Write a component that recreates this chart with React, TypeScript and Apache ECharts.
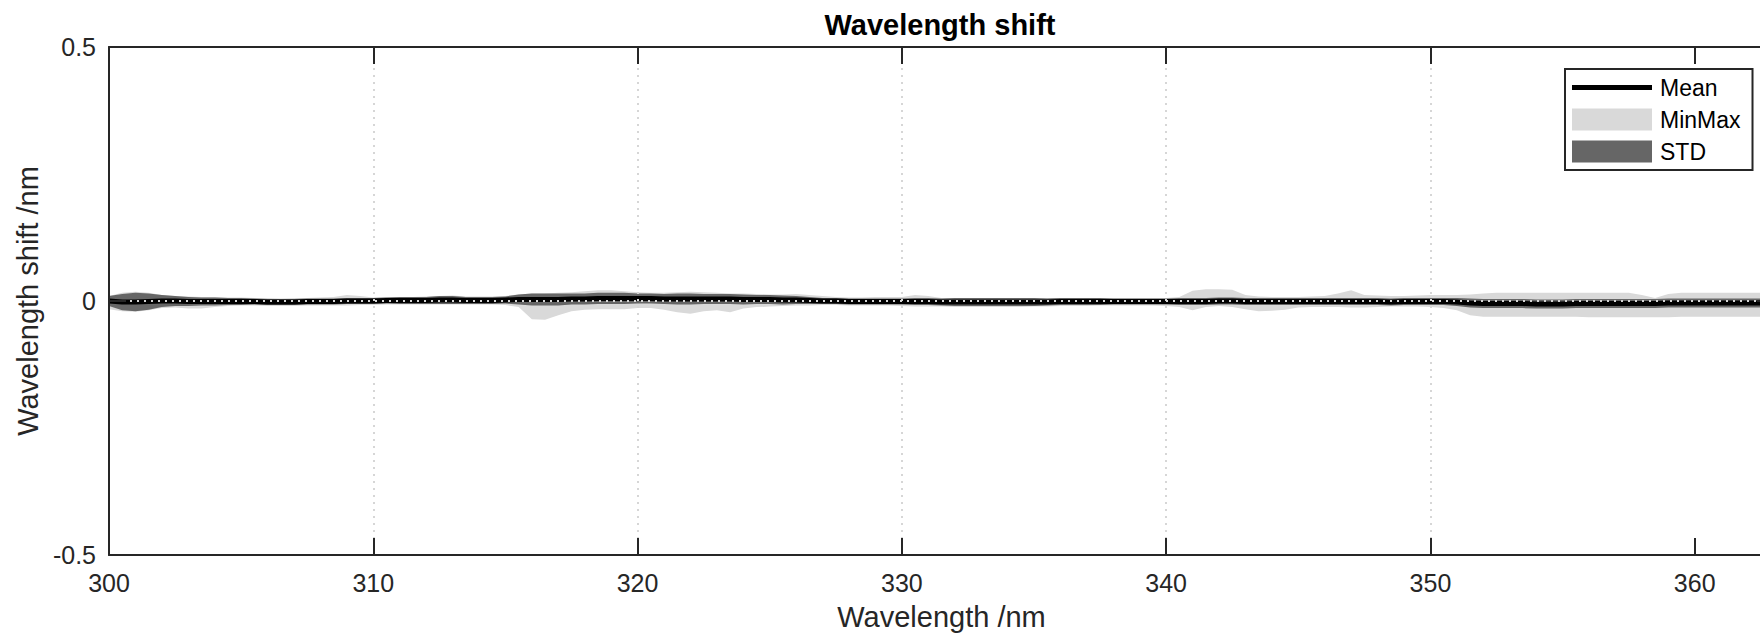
import React, { useEffect, useRef } from "react";
import * as echarts from "echarts";

// Wavelength grid (nm)
const wavelengths = [
  300, 300.5, 301, 301.5, 302, 302.5, 303, 303.5, 304, 304.5,
  305, 305.5, 306, 306.5, 307, 307.5, 308, 308.5, 309, 309.5,
  310, 310.5, 311, 311.5, 312, 312.5, 313, 313.5, 314, 314.5,
  315, 315.5, 316, 316.5, 317, 317.5, 318, 318.5, 319, 319.5,
  320, 320.5, 321, 321.5, 322, 322.5, 323, 323.5, 324, 324.5,
  325, 325.5, 326, 326.5, 327, 327.5, 328, 328.5, 329, 329.5,
  330, 330.5, 331, 331.5, 332, 332.5, 333, 333.5, 334, 334.5,
  335, 335.5, 336, 336.5, 337, 337.5, 338, 338.5, 339, 339.5,
  340, 340.5, 341, 341.5, 342, 342.5, 343, 343.5, 344, 344.5,
  345, 345.5, 346, 346.5, 347, 347.5, 348, 348.5, 349, 349.5,
  350, 350.5, 351, 351.5, 352, 352.5, 353, 353.5, 354, 354.5,
  355, 355.5, 356, 356.5, 357, 357.5, 358, 358.5, 359, 359.5,
  360, 360.5, 361, 361.5, 362, 362.5, 363,
];

const meanShift = [
  0.000, -0.002, -0.002, -0.001, 0.000, 0.000, -0.001, -0.001, -0.001, -0.001,
  -0.001, -0.001, -0.002, -0.002, -0.002, -0.001, -0.001, -0.001, 0.000, 0.000,
  0.000, 0.001, 0.001, 0.001, 0.001, 0.002, 0.002, 0.001, 0.001, 0.001,
  0.002, 0.003, 0.003, 0.003, 0.003, 0.004, 0.004, 0.005, 0.005, 0.005,
  0.005, 0.005, 0.004, 0.004, 0.004, 0.004, 0.004, 0.004, 0.003, 0.003,
  0.003, 0.002, 0.002, 0.001, 0.000, 0.000, -0.001, -0.001, -0.001, -0.001,
  -0.001, -0.001, -0.001, -0.002, -0.002, -0.002, -0.002, -0.002, -0.002, -0.002,
  -0.002, -0.002, -0.001, -0.001, -0.001, -0.001, -0.001, -0.001, -0.001, -0.001,
  -0.001, -0.001, -0.001, -0.001, 0.000, 0.000, -0.001, -0.001, -0.001, -0.001,
  -0.001, -0.001, -0.001, -0.001, -0.001, -0.001, -0.001, -0.002, -0.001, -0.001,
  -0.001, -0.001, -0.002, -0.004, -0.005, -0.005, -0.005, -0.005, -0.006, -0.006,
  -0.006, -0.005, -0.005, -0.005, -0.005, -0.005, -0.005, -0.005, -0.004, -0.004,
  -0.004, -0.004, -0.004, -0.004, -0.004, -0.004, -0.004,
];

const stdShift = [
  0.010, 0.016, 0.018, 0.016, 0.012, 0.010, 0.009, 0.008, 0.008, 0.007,
  0.007, 0.006, 0.006, 0.006, 0.006, 0.006, 0.006, 0.006, 0.006, 0.006,
  0.006, 0.006, 0.007, 0.007, 0.007, 0.008, 0.008, 0.007, 0.007, 0.007,
  0.007, 0.010, 0.012, 0.012, 0.012, 0.011, 0.011, 0.011, 0.011, 0.011,
  0.010, 0.010, 0.010, 0.011, 0.011, 0.010, 0.010, 0.010, 0.010, 0.009,
  0.009, 0.009, 0.008, 0.007, 0.006, 0.006, 0.006, 0.006, 0.006, 0.006,
  0.006, 0.007, 0.007, 0.007, 0.008, 0.008, 0.008, 0.008, 0.008, 0.008,
  0.008, 0.007, 0.007, 0.007, 0.007, 0.007, 0.006, 0.006, 0.006, 0.006,
  0.006, 0.007, 0.007, 0.007, 0.007, 0.007, 0.007, 0.007, 0.007, 0.007,
  0.007, 0.007, 0.007, 0.007, 0.007, 0.007, 0.007, 0.007, 0.007, 0.007,
  0.007, 0.007, 0.008, 0.009, 0.009, 0.009, 0.009, 0.009, 0.009, 0.009,
  0.009, 0.009, 0.009, 0.009, 0.009, 0.009, 0.009, 0.009, 0.009, 0.009,
  0.009, 0.009, 0.009, 0.009, 0.009, 0.009, 0.009,
];

const minShift = [
  -0.016, -0.020, -0.021, -0.018, -0.014, -0.013, -0.015, -0.015, -0.012, -0.010,
  -0.009, -0.009, -0.010, -0.010, -0.010, -0.009, -0.009, -0.009, -0.009, -0.008,
  -0.008, -0.007, -0.007, -0.007, -0.007, -0.007, -0.007, -0.007, -0.007, -0.007,
  -0.008, -0.012, -0.036, -0.037, -0.028, -0.020, -0.017, -0.016, -0.016, -0.016,
  -0.014, -0.014, -0.017, -0.022, -0.025, -0.020, -0.018, -0.022, -0.015, -0.012,
  -0.011, -0.010, -0.009, -0.009, -0.008, -0.008, -0.009, -0.009, -0.009, -0.009,
  -0.010, -0.011, -0.011, -0.011, -0.012, -0.012, -0.012, -0.012, -0.012, -0.012,
  -0.011, -0.011, -0.010, -0.010, -0.010, -0.009, -0.009, -0.009, -0.009, -0.009,
  -0.010, -0.012, -0.018, -0.012, -0.010, -0.012, -0.016, -0.020, -0.019, -0.017,
  -0.013, -0.012, -0.012, -0.012, -0.013, -0.013, -0.012, -0.011, -0.011, -0.011,
  -0.012, -0.014, -0.018, -0.028, -0.031, -0.031, -0.031, -0.031, -0.031, -0.031,
  -0.031, -0.031, -0.032, -0.032, -0.032, -0.032, -0.032, -0.032, -0.032, -0.031,
  -0.031, -0.031, -0.031, -0.031, -0.031, -0.031, -0.031,
];

const maxShift = [
  0.010, 0.016, 0.018, 0.016, 0.012, 0.010, 0.009, 0.008, 0.008, 0.007,
  0.007, 0.006, 0.006, 0.005, 0.006, 0.006, 0.007, 0.008, 0.012, 0.010,
  0.007, 0.008, 0.008, 0.008, 0.009, 0.010, 0.011, 0.009, 0.009, 0.009,
  0.010, 0.013, 0.015, 0.015, 0.016, 0.017, 0.019, 0.021, 0.021, 0.019,
  0.017, 0.016, 0.016, 0.017, 0.018, 0.017, 0.016, 0.015, 0.015, 0.014,
  0.013, 0.013, 0.014, 0.012, 0.010, 0.008, 0.007, 0.007, 0.008, 0.008,
  0.008, 0.012, 0.010, 0.006, 0.006, 0.006, 0.006, 0.006, 0.006, 0.006,
  0.006, 0.006, 0.006, 0.006, 0.006, 0.006, 0.006, 0.006, 0.006, 0.006,
  0.006, 0.008, 0.020, 0.023, 0.023, 0.022, 0.012, 0.009, 0.008, 0.008,
  0.008, 0.009, 0.010, 0.015, 0.021, 0.012, 0.011, 0.010, 0.010, 0.011,
  0.012, 0.012, 0.012, 0.013, 0.015, 0.016, 0.016, 0.016, 0.016, 0.016,
  0.016, 0.016, 0.016, 0.016, 0.016, 0.016, 0.012, 0.006, 0.014, 0.016,
  0.016, 0.016, 0.016, 0.016, 0.016, 0.016, 0.016,
];

const yAxisMin = -0.5;
const yAxisMax = 0.5;
const yAxisStep = 0.5;

const FONT = "'Liberation Sans', Arial, Helvetica, sans-serif";
const AXIS_COLOR = "#262626";
const GRID_COLOR = "#d6d6d6";

const r4 = (v: number) => Math.round(v * 100000) / 100000;

export default function App() {
  const ref = useRef<HTMLDivElement>(null);

  useEffect(() => {
    if (!ref.current) return;
    const chart = echarts.init(ref.current, undefined, { renderer: "svg" });

    const categories = wavelengths.map((w) => String(w));
    const mmSpan = maxShift.map((v, i) => r4(v - minShift[i]));
    const sdBase = meanShift.map((v, i) => r4(v - stdShift[i]));
    const sdSpan = stdShift.map((v) => r4(2 * v));

    const tickInterval = 19; // one tick every 10 nm (20 samples)

    const option: any = {
      animation: false,
      backgroundColor: "#ffffff",
      title: {
        text: "Wavelength shift",
        left: "center",
        top: 10,
        padding: 0,
        textStyle: { fontFamily: FONT, fontSize: 29, fontWeight: "bold", color: "#000" },
      },
      legend: {
        orient: "vertical",
        left: 1565,
        top: 69,
        padding: [7, 12, 7, 7],
        itemGap: 9,
        itemWidth: 80,
        itemHeight: 22,
        backgroundColor: "#ffffff",
        borderColor: AXIS_COLOR,
        borderWidth: 2,
        borderRadius: 0,
        selectedMode: false,
        symbolKeepAspect: true,
        textStyle: { fontFamily: FONT, fontSize: 23, color: "#000", padding: [0, 0, 0, 3] },
        data: [
          { name: "Mean", icon: "path://M0 0H80V5H0Z", itemStyle: { color: "#000000", borderWidth: 0 } },
          { name: "MinMax", icon: "rect", itemStyle: { color: "#d9d9d9", borderWidth: 0 } },
          { name: "STD", icon: "rect", itemStyle: { color: "#666666", borderWidth: 0 } },
        ],
        z: 20,
      },
      grid: {
        left: 109,
        top: 47,
        width: 1665,
        height: 508,
        containLabel: false,
        outerBoundsMode: "none",
      },
      xAxis: [
        {
          type: "category",
          data: categories,
          boundaryGap: false,
          position: "bottom",
          z: 10,
          name: "Wavelength /nm",
          nameLocation: "middle",
          nameGap: 47,
          nameTextStyle: { fontFamily: FONT, fontSize: 29, color: AXIS_COLOR },
          axisLine: { onZero: false, lineStyle: { color: AXIS_COLOR, width: 2 } },
          axisTick: { inside: true, length: 17, interval: tickInterval, lineStyle: { color: AXIS_COLOR, width: 2 } },
          axisLabel: {
            interval: tickInterval,
            margin: 15,
            fontFamily: FONT,
            fontSize: 25,
            color: AXIS_COLOR,
          },
          splitLine: {
            show: true,
            interval: tickInterval,
            showMinLine: false,
            showMaxLine: false,
            lineStyle: { color: GRID_COLOR, width: 2, type: [2, 5] },
          },
        },
        {
          type: "category",
          data: categories,
          boundaryGap: false,
          position: "top",
          z: 10,
          axisLine: { onZero: false, lineStyle: { color: AXIS_COLOR, width: 2 } },
          axisTick: { inside: true, length: 17, interval: tickInterval, lineStyle: { color: AXIS_COLOR, width: 2 } },
          axisLabel: { show: false },
          splitLine: { show: false },
        },
      ],
      yAxis: [
        {
          type: "value",
          min: yAxisMin,
          max: yAxisMax,
          interval: yAxisStep,
          position: "left",
          z: 10,
          name: "Wavelength shift /nm",
          nameLocation: "middle",
          nameGap: 44,
          nameTextStyle: { fontFamily: FONT, fontSize: 29, color: AXIS_COLOR },
          axisLine: { show: true, onZero: false, lineStyle: { color: AXIS_COLOR, width: 2 } },
          axisTick: { show: true, inside: true, length: 17, lineStyle: { color: AXIS_COLOR, width: 2 } },
          axisLabel: { margin: 13, fontFamily: FONT, fontSize: 25, color: AXIS_COLOR },
          splitLine: {
            show: true,
            showMinLine: false,
            showMaxLine: false,
            lineStyle: { color: GRID_COLOR, width: 2, type: [2, 5] },
          },
        },
        {
          type: "value",
          min: yAxisMin,
          max: yAxisMax,
          interval: yAxisStep,
          position: "right",
          z: 10,
          axisLine: { show: true, onZero: false, lineStyle: { color: AXIS_COLOR, width: 2 } },
          axisTick: { show: true, inside: true, length: 17, lineStyle: { color: AXIS_COLOR, width: 2 } },
          axisLabel: { show: false },
          splitLine: { show: false },
        },
      ],
      series: [
        {
          name: "mmBase",
          type: "line",
          data: minShift,
          stack: "mm",
          stackStrategy: "all",
          symbol: "none",
          silent: true,
          lineStyle: { width: 0, opacity: 0 },
          z: 1,
        },
        {
          name: "MinMax",
          type: "line",
          data: mmSpan,
          stack: "mm",
          stackStrategy: "all",
          symbol: "none",
          silent: true,
          itemStyle: { color: "#d9d9d9" },
          lineStyle: { width: 0, opacity: 0, color: "#d9d9d9" },
          areaStyle: { color: "#d9d9d9", opacity: 1 },
          z: 1,
        },
        {
          name: "sdBase",
          type: "line",
          data: sdBase,
          stack: "sd",
          stackStrategy: "all",
          symbol: "none",
          silent: true,
          lineStyle: { width: 0, opacity: 0 },
          z: 2,
        },
        {
          name: "STD",
          type: "line",
          data: sdSpan,
          stack: "sd",
          stackStrategy: "all",
          symbol: "none",
          silent: true,
          itemStyle: { color: "#666666" },
          lineStyle: { width: 0, opacity: 0, color: "#666666" },
          areaStyle: { color: "#666666", opacity: 1 },
          z: 2,
        },
        {
          name: "Mean",
          type: "line",
          data: meanShift,
          symbol: "none",
          silent: true,
          itemStyle: { color: "#000000" },
          lineStyle: { color: "#000000", width: 5 },
          z: 3,
        },
      ],
    };

    chart.setOption(option);
    return () => chart.dispose();
  }, []);

  return (
    <div
      style={{
        position: "absolute",
        left: 0,
        top: 0,
        width: 1760,
        height: 634,
        overflow: "hidden",
        background: "#ffffff",
      }}
    >
      <div ref={ref} style={{ width: 1880, height: 634 }} />
    </div>
  );
}
